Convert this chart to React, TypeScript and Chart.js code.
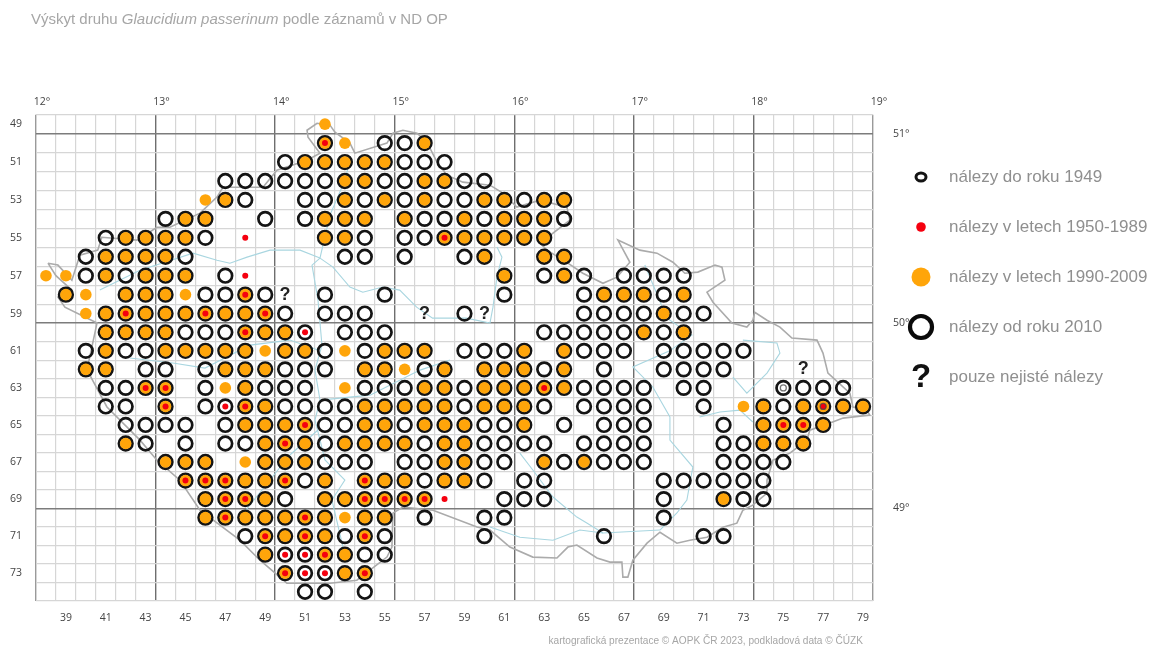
import React, { useEffect, useRef } from "react";
import { Chart, registerables } from "chart.js";

Chart.register(...registerables);

// Codes: O ring 2010+, A ring + orange, R ring + orange + red, o orange only, r red only,
// w ring + red, g ring + small ring, D ring + orange + red + small ring, ? uncertain
const row49 = ["52o"];
const row50 = ["52R","53o","55O","56O","57A"];
const row51 = ["50O","51A","52A","53A","54A","55A","56O","57O","58O"];
const row52 = ["47O","48O","49O","50O","51O","52O","53A","54A","55O","56O","57A","58A","59O","60O"];
const row53 = ["46o","47A","48O","51O","52O","53A","54O","55A","56O","57A","58O","59O","60A","61A","62O","63A","64A"];
const row54 = ["44O","45A","46A","49O","51O","52A","53A","54A","56A","57O","58O","59A","60O","61A","62A","63A","64O"];
const row55 = ["41O","42A","43A","44A","45A","46O","48r","52A","53A","54O","56O","57O","58R","59A","60A","61A","62A","63A"];
const row56 = ["40O","41A","42A","43A","44A","45O","53O","54O","56O","59O","60A","63A","64A"];
const row57 = ["38o","39o","40O","41A","42O","43A","44A","45A","47O","48r","61A","63O","64A","65O","67O","68O","69O","70O"];
const row58 = ["39A","40o","42A","43A","44A","45o","46O","47O","48R","49O","50?","52O","55O","61O","65O","66A","67A","68A","69O","70A"];
const row59 = ["40o","41A","42R","43A","44A","45A","46R","47A","48A","49R","50O","52O","53O","54O","57?","59O","60?","65O","66O","67O","68O","69A","70O","71O"];
const row60 = ["41A","42A","43A","44A","45O","46O","47O","48R","49A","50A","51w","53O","54O","55O","63O","64O","65O","66O","67O","68A","69O","70A"];
const row61 = ["40O","41A","42O","43O","44A","45A","46A","47A","48A","49o","50A","51A","52O","53o","54O","55A","56A","57A","59O","60O","61O","62A","64A","65O","66O","67O","69O","70O","71O","72O","73O"];
const row62 = ["40A","41A","43O","44O","46O","47A","48A","49A","50O","51O","52O","54A","55A","56o","57O","58A","60A","61A","62A","63O","64A","66O","69O","70O","71O","72O","76?"];
const row63 = ["41O","42O","43R","44R","46O","47o","48A","49O","50O","51O","53o","54O","55O","56O","57A","58A","59O","60A","61A","62A","63R","64A","65O","66O","67O","68O","70O","71O","75g","76O","77O","78O"];
const row64 = ["41O","42O","44R","46O","47w","48R","49A","50O","51O","52O","53O","54A","55A","56A","57A","58A","59O","60A","61A","62A","63O","65O","66O","67O","68O","71O","73o","74A","75O","76A","77D","78A","79A"];
const row65 = ["42O","43O","44O","45O","47O","48A","49A","50A","51R","52O","53O","54A","55A","56O","57A","58A","59A","60O","61O","62A","64O","66O","67O","68O","72O","74A","75R","76R","77A"];
const row66 = ["42A","43O","45O","47O","48O","49A","50R","51A","52O","53A","54A","55A","56A","57O","58A","59A","60O","61O","62O","63O","65O","66O","67O","68O","72O","73O","74A","75A","76A"];
const row67 = ["44A","45A","46A","48o","49A","50A","51A","52O","53O","54O","56O","57O","58A","59A","60O","61O","63A","64O","65A","66O","67O","68O","72O","73O","74O","75O"];
const row68 = ["45R","46R","47R","48A","49A","50R","51O","52A","54R","55A","56A","57O","58A","59A","60O","62O","63O","69O","70O","71O","72O","73O","74O"];
const row69 = ["46A","47R","48R","49A","50O","52A","53A","54R","55R","56R","57R","58r","61O","62O","63O","69O","72A","73O","74O"];
const row70 = ["46A","47R","48A","49A","50A","51R","52A","53o","54A","55A","57O","60O","61O","69O"];
const row71 = ["48O","49R","50A","51R","52A","53O","54R","55O","60O","66O","71O","72O"];
const row72 = ["49A","50w","51w","52R","53A","54O","55O"];
const row73 = ["50R","51w","52w","53A","54R"];
const row74 = ["51O","52O","54O"];
const rowTable: [number, string[]][] = [
  [49,row49],[50,row50],[51,row51],[52,row52],[53,row53],[54,row54],[55,row55],[56,row56],[57,row57],
  [58,row58],[59,row59],[60,row60],[61,row61],[62,row62],[63,row63],[64,row64],[65,row65],[66,row66],
  [67,row67],[68,row68],[69,row69],[70,row70],[71,row71],[72,row72],[73,row73],[74,row74],
];

const columnLabels = [39,41,43,45,47,49,51,53,55,57,59,61,63,65,67,69,71,73,75,77,79];
const rowLabels = [49,51,53,55,57,59,61,63,65,67,69,71,73];
const lonEdges = [37.5,43.5,49.5,55.5,61.5,67.5,73.5,79.5];
const lonLabels = ["12°","13°","14°","15°","16°","17°","18°","19°"];
const latEdges = [49.5,59.5,69.5];
const latLabels = ["51°","50°","49°"];
const columnEdges = [37.5,38.5,39.5,40.5,41.5,42.5,43.5,44.5,45.5,46.5,47.5,48.5,49.5,50.5,51.5,52.5,53.5,54.5,55.5,56.5,57.5,58.5,59.5,60.5,61.5,62.5,63.5,64.5,65.5,66.5,67.5,68.5,69.5,70.5,71.5,72.5,73.5,74.5,75.5,76.5,77.5,78.5,79.5];
const rowEdges = [48.5,49.5,50.5,51.5,52.5,53.5,54.5,55.5,56.5,57.5,58.5,59.5,60.5,61.5,62.5,63.5,64.5,65.5,66.5,67.5,68.5,69.5,70.5,71.5,72.5,73.5,74.5];

const legendLabels = ["nálezy do roku 1949","nálezy v letech 1950-1989","nálezy v letech 1990-2009","nálezy od roku 2010","pouze nejisté nálezy"];
const titleParts = ["Výskyt druhu ","Glaucidium passerinum"," podle záznamů v ND OP"];
const footerText = "kartografická prezentace © AOPK ČR 2023, podkladová data © ČÚZK";

const stateBorder = [[38.1,56.34],[38.6,56.44],[39.3,57.24],[39.7,55.92],[40.6,55.65],[40.8,54.97],[42.57,55.12],[43.57,54.44],[44.22,54.44],[45.73,53.7],[46.58,52.85],[46.88,52.33],[48.89,52.33],[49.59,51.43],[51.1,50.9],[51.75,50.53],[51.15,49.69],[51.1,49.32],[51.6,48.95],[52.25,49.05],[52.5,49.42],[53.25,50],[53.5,50.53],[55.11,50],[55.41,49.48],[55.91,49.32],[56.62,49.48],[57.12,49.95],[57.62,51],[58.12,51.69],[58.92,52.06],[60.28,52.22],[60.93,52.64],[61.63,53.38],[62.79,53.01],[64.14,53.38],[64.29,54.07],[62.79,55.28],[63.14,55.65],[64.19,56.34],[64.94,56.87],[65.95,57.4],[66.65,57.08],[67.3,56.29],[66.7,55.12],[67.8,55.65],[68.66,55.81],[69.46,56.29],[70.06,56.87],[70.71,56.81],[71.57,56.44],[71.92,56.55],[72.07,57.24],[71.17,57.87],[71.47,58.4],[72.42,59.5],[73.17,59.72],[73.47,59.35],[73.57,58.93],[74.18,59.35],[74.83,59.72],[75.43,60.31],[76.69,60.42],[76.99,61.12],[77.24,62.2],[78.34,63.28],[78.49,64.03],[79.19,64.2],[79.34,64.47],[78,64.63],[77.34,64.9],[76.33,65.28],[76.18,65.82],[75.33,66.52],[74.48,66.9],[74.18,67.98],[74.18,68.68],[73.47,69.33],[72.97,69.6],[72.67,70.3],[71.97,70.52],[71.17,71.06],[70.31,71.22],[69.66,71.38],[68.81,70.79],[68.16,71.38],[67.45,72.3],[67.2,73.21],[66.95,73.21],[66.9,72.4],[66.3,72.4],[65.65,72.18],[64.64,71.48],[64.19,71.59],[63.64,72.18],[62.43,72.13],[61.28,71.59],[60.28,70.67],[59.63,70.51],[57.42,69.6],[55.91,69.43],[55.41,69.76],[55.36,71.59],[55.11,72.13],[53.6,73.38],[52.25,73.54],[50.09,73.54],[48.74,72.3],[47.73,71.22],[45.73,69.6],[44.72,67.98],[43.57,66.9],[42.72,65.82],[41.06,64.03],[40.06,62.03],[40.56,59.5],[38.95,58.66],[38.6,58.13],[39.3,57.76],[38.5,57],[38.1,56.34]];
const vltava = [[53,72.02],[52.35,69.05],[53,67.97],[52,66.89],[51.5,64.73],[51.75,63.66],[51.5,62.04],[51.85,60.69],[51.65,58.29],[51.35,56.44],[51.75,56.07]];
const labe = [[53.25,50.9],[53,51.96],[52.25,53.8],[51.75,56.07],[52.4,56.55],[53.25,57.6],[53.9,57.87],[54.9,57.6],[55.75,57.76],[56.6,58.66],[57.4,59.24],[59.1,59.24],[60.28,59.5],[60.43,58.66],[60.63,57.08],[60.88,56.02],[60.63,55.49]];
const ohre = [[40.7,57.76],[42.72,56.71],[45.38,55.81],[46.58,56.18],[47.23,56.34],[48.09,56.02],[49.24,55.65],[50.75,55.65],[51.75,56.07]];
const berounka = [[42.2,61.39],[44.37,61.66],[45.98,61.93],[48.24,60.69],[50.24,60.42],[51.65,60.96]];
const otava = [[47.73,70],[49.24,67.97],[50.24,66.62],[51.65,65.27]];
const sazava = [[51.75,63.66],[54.26,63.39],[56.77,62.04],[58.27,61.5]];
const morava = [[68.05,56.44],[69.16,59.24],[70.41,60.15],[69.3,61],[67.45,61.87],[68.45,62.95],[69.31,64.57],[69.31,65.82],[70.46,67.27],[70.16,69.05],[69.66,69.75],[68.81,70.67]];
const becva = [[70.8,64.57],[71.82,64.3],[72.82,64.2],[73.47,64.84]];
const odra = [[72.97,60.42],[74.68,60.58],[74.83,61.12],[74.18,62.2],[73.17,63.28],[72.47,62.42]];
const dyje = [[60.28,70.51],[61.78,71.06],[63.44,71.22],[64.79,70.67],[65.95,70.83],[68.81,70.67]];
const svratka = [[61.78,66.52],[62.43,67.43],[63.44,68.89],[64.64,69.97],[65.14,70.29],[65.95,70.83]];
const rivers = [vltava, labe, ohre, berounka, otava, sazava, morava, becva, odra, dyje, svratka];

const ORANGE = "#FFA50A";
const RED = "#F5000F";
const RING = "#141414";
const GREY_TEXT = "#8f8f8f";
const SANS = '"Liberation Sans", Arial, sans-serif';
const TICK_FONT = { family: '"Open Sans", sans-serif', size: 10.5 };
const TICK_COLOR = "#444";

// The sheet's rows are a little taller north of 50° than south of it.
const southRatio = 18.53 / 18.94;
const rowPos = (r: number) => (r <= 59.5 ? r : 59.5 + (r - 59.5) * southRatio);

type Pt = { x: number; y: number };
const ringPts: Pt[] = [], orangePts: Pt[] = [], redPts: Pt[] = [], smallPts: Pt[] = [], unsurePts: Pt[] = [];
rowTable.forEach(([row, cells]) => {
  cells.forEach((cell) => {
    const pt = { x: Number(cell.slice(0, 2)), y: rowPos(row) };
    const code = cell.slice(2);
    if ("OARwgD".includes(code)) ringPts.push(pt);
    if ("ARoD".includes(code)) orangePts.push(pt);
    if ("RrwD".includes(code)) redPts.push(pt);
    if ("gD".includes(code)) smallPts.push(pt);
    if (code === "?") unsurePts.push(pt);
  });
});

const toPts = (line: number[][]) => line.map(([c, r]) => ({ x: c, y: rowPos(r) }));
const setTicks = (values: number[]) => (scale: any) => {
  scale.ticks = values.map((value) => ({ value }));
};
const isIn = (list: number[], v: number) => list.some((e) => Math.abs(e - v) < 1e-6);

const overlay = {
  id: "overlay",
  afterDatasetsDraw(chart: any) {
    const ctx = chart.ctx;
    const meta = chart.getDatasetMeta(4);
    ctx.save();
    ctx.fillStyle = "#222";
    ctx.font = `bold 18px ${SANS}`;
    ctx.textAlign = "center";
    ctx.textBaseline = "middle";
    meta.data.forEach((p: any) => ctx.fillText("?", p.x, p.y));
    ctx.restore();
  },
  afterDraw(chart: any) {
    const ctx = chart.ctx;
    ctx.save();
    ctx.textBaseline = "middle";
    ctx.textAlign = "left";
    // title
    ctx.fillStyle = "#a6a6a6";
    let tx = 31;
    titleParts.forEach((part, i) => {
      ctx.font = `${i === 1 ? "italic " : ""}15px ${SANS}`;
      ctx.fillText(part, tx, 20);
      tx += ctx.measureText(part).width;
    });
    // footer
    ctx.fillStyle = "#a6a6a6";
    ctx.font = `10.1px ${SANS}`;
    ctx.textAlign = "right";
    ctx.fillText(footerText, 863, 641);
    // legend
    ctx.textAlign = "left";
    const lx = 921;
    legendLabels.forEach((label, i) => {
      const y = 177 + i * 50;
      ctx.fillStyle = GREY_TEXT;
      ctx.font = `17px ${SANS}`;
      ctx.fillText(label, 949, y);
      ctx.beginPath();
      if (i === 0) {
        ctx.ellipse(lx, y, 5, 4, 0, 0, Math.PI * 2);
        ctx.lineWidth = 3;
        ctx.strokeStyle = RING;
        ctx.stroke();
      } else if (i === 1) {
        ctx.arc(lx, y, 4.8, 0, Math.PI * 2);
        ctx.fillStyle = RED;
        ctx.fill();
      } else if (i === 2) {
        ctx.arc(lx, y, 9.5, 0, Math.PI * 2);
        ctx.fillStyle = ORANGE;
        ctx.fill();
      } else if (i === 3) {
        ctx.ellipse(lx, y, 11, 11, 0, 0, Math.PI * 2);
        ctx.lineWidth = 4.2;
        ctx.strokeStyle = "#0a0a0a";
        ctx.stroke();
      } else {
        ctx.fillStyle = "#111";
        ctx.font = `bold 33px ${SANS}`;
        ctx.textAlign = "center";
        ctx.fillText("?", lx, y + 1);
        ctx.textAlign = "left";
      }
    });
    ctx.restore();
  },
};

const hiddenAxis = { grid: { display: false }, border: { display: false } };

export default function App() {
  const ref = useRef<HTMLCanvasElement>(null);
  useEffect(() => {
    document.body.style.margin = "0";
    const chart = new Chart(ref.current as HTMLCanvasElement, {
      type: "scatter",
      data: {
        datasets: [
          { label: "nálezy do roku 1949", data: smallPts, pointRadius: 3, pointBorderWidth: 1.3, pointBorderColor: "rgba(70,70,70,0.75)", pointBackgroundColor: "transparent", order: 1 },
          { label: "nálezy v letech 1950-1989", data: redPts, pointRadius: 3, pointBorderWidth: 0, pointBackgroundColor: RED, order: 2 },
          { label: "nálezy v letech 1990-2009", data: orangePts, pointRadius: 5.8, pointBorderWidth: 0, pointBackgroundColor: ORANGE, order: 3 },
          { label: "nálezy od roku 2010", data: ringPts, pointRadius: 6.8, pointBorderWidth: 2.7, pointBorderColor: RING, pointBackgroundColor: "transparent", order: 4 },
          { label: "pouze nejisté nálezy", data: unsurePts, pointRadius: 0, order: 5 },
          { label: "hranice", data: toPts(stateBorder), showLine: true, pointRadius: 0, borderColor: "#ababab", borderWidth: 1.6, order: 6 },
          ...rivers.map((line, i) => ({ label: `řeka ${i + 1}`, data: toPts(line), showLine: true, pointRadius: 0, borderColor: "#a9d6e0", borderWidth: 1.1, order: 7 })),
        ] as any,
      },
      plugins: [overlay],
      options: {
        responsive: false,
        animation: false,
        events: [],
        layout: { padding: 0 },
        plugins: { legend: { display: false }, tooltip: { enabled: false }, title: { display: false } },
        scales: {
          x: {
            type: "linear", position: "bottom", min: 37.5, max: 79.5,
            afterBuildTicks: setTicks(columnEdges),
            afterFit: (s: any) => { s.height = 0; },
            ticks: { display: false, autoSkip: false },
            border: { display: false },
            grid: {
              drawTicks: false,
              color: (c: any) => (isIn(lonEdges, c.tick.value) ? (c.tick.value === 37.5 || c.tick.value === 79.5 ? "#9a9a9a" : "#6e6e6e") : "#d6d6d6"),
              lineWidth: (c: any) => (isIn(lonEdges, c.tick.value) ? 1.4 : 1.2),
            },
          },
          y: {
            type: "linear", position: "left", reverse: true, min: 48.5, max: rowPos(74.5),
            afterBuildTicks: setTicks(rowEdges.map(rowPos)),
            afterFit: (s: any) => { s.width = 0; },
            ticks: { display: false, autoSkip: false },
            border: { display: false },
            grid: {
              drawTicks: false,
              color: (c: any) => (latEdges.map(rowPos).some((v) => Math.abs(v - c.tick.value) < 1e-6) ? "#7c7c7c" : "#d6d6d6"),
              lineWidth: (c: any) => (latEdges.map(rowPos).some((v) => Math.abs(v - c.tick.value) < 1e-6) ? 1.4 : 1.2),
            },
          },
          xBottom: {
            type: "linear", axis: "x", position: "bottom", min: 37.5, max: 79.5, ...hiddenAxis,
            afterBuildTicks: setTicks(columnLabels),
            afterFit: (s: any) => { s.height = 45; },
            ticks: { autoSkip: false, maxRotation: 0, padding: 3, font: TICK_FONT, color: TICK_COLOR, callback: (v: any) => String(v) },
          },
          xTop: {
            type: "linear", axis: "x", position: "top", min: 37.5, max: 79.5, ...hiddenAxis,
            afterBuildTicks: setTicks(lonEdges),
            afterFit: (s: any) => { s.height = 114.7; },
            ticks: { autoSkip: false, maxRotation: 0, padding: -2, labelOffset: 6, font: TICK_FONT, color: TICK_COLOR, callback: (v: any) => lonLabels[lonEdges.indexOf(v)] },
          },
          yLeft: {
            type: "linear", axis: "y", position: "left", reverse: true, min: 48.5, max: rowPos(74.5), ...hiddenAxis,
            afterBuildTicks: setTicks(rowLabels.map(rowPos)),
            afterFit: (s: any) => { s.width = 36; },
            ticks: { autoSkip: false, padding: 6, font: TICK_FONT, color: TICK_COLOR, callback: (_v: any, i: number) => String(rowLabels[i]) },
          },
          yRight: {
            type: "linear", axis: "y", position: "right", reverse: true, min: 48.5, max: rowPos(74.5), ...hiddenAxis,
            afterBuildTicks: setTicks(latEdges.map(rowPos)),
            afterFit: (s: any) => { s.width = 277; },
            ticks: { autoSkip: false, padding: 12, font: TICK_FONT, color: TICK_COLOR, callback: (_v: any, i: number) => latLabels[i] },
          },
        } as any,
      },
    });
    return () => chart.destroy();
  }, []);
  return (
    <canvas
      ref={ref}
      width={1150}
      height={646}
      style={{ position: "fixed", left: 0, top: 0, width: 1150, height: 646, display: "block", background: "#fff", filter: "blur(0.6px)" }}
    />
  );
}
